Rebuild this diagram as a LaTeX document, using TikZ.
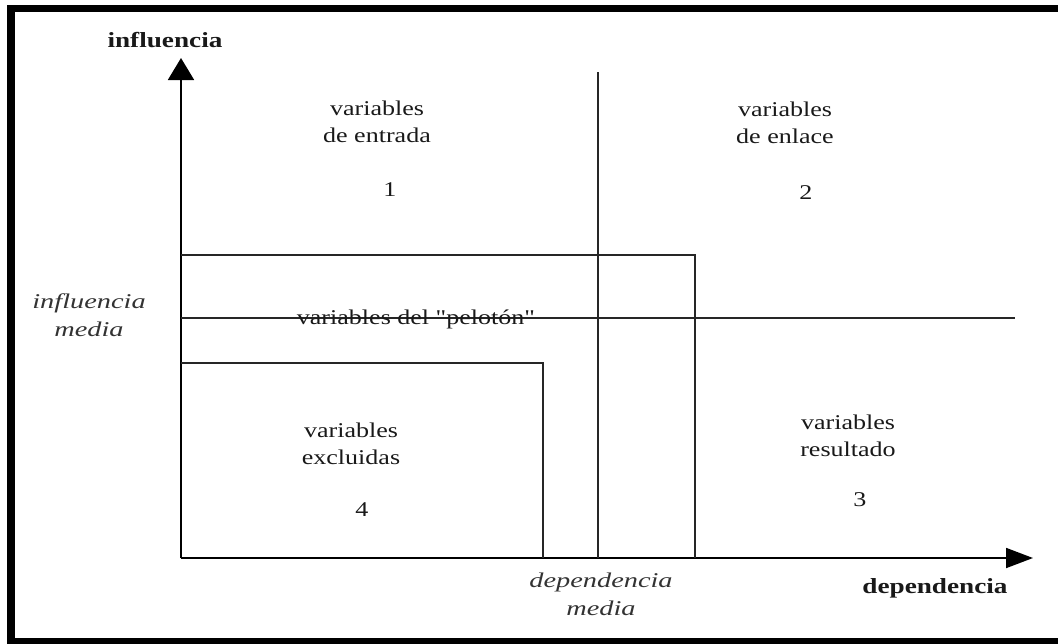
\documentclass[tikz,border=0pt]{standalone}
\usepackage{fontspec}
\setmainfont{Liberation Serif}
\newfontfamily\rmw[FakeStretch=1.24]{Liberation Serif}
\newfontfamily\itw[FakeStretch=1.35]{Liberation Serif}
\newfontfamily\bfw[FakeStretch=1.26]{Liberation Serif}
\usetikzlibrary{arrows.meta}
\begin{document}
\begin{tikzpicture}[x=1pt,y=-1pt,
  frameline/.style={line width=#1, draw=black},
  ln/.style={line width=1.6pt, draw=black!85},
  vaxis/.style={line width=1.8pt, draw=black, -{Triangle[length=22pt,width=26pt]}},
  haxis/.style={line width=1.8pt, draw=black, -{Triangle[length=27pt,width=20pt]}},
  lbl/.style={font=\rmw\fontsize{21}{27}\selectfont, align=center, inner sep=0pt, text=black!90},
  ilbl/.style={font=\itw\itshape\fontsize{21}{28}\selectfont, align=center, inner sep=0pt, text=black!80},
  blbl/.style={font=\bfw\bfseries\fontsize{21.6}{26}\selectfont, inner sep=0pt, text=black!90}]
\useasboundingbox (0,0) rectangle (1058,643);
% outer frame
\draw[frameline=7pt] (7,8.5) -- (1058,8.5);
\draw[frameline=8pt] (11,5) -- (11,643);
\draw[frameline=6pt] (7,641) -- (1058,641);
% axes
\coordinate (O) at (181,558);
\coordinate (ytip) at (181,58);
\coordinate (xtip) at (1033,558);
\draw[vaxis] (O) -- (ytip);
\draw[haxis] (O) -- (xtip);
% regions
\coordinate (vtop) at (598,72);
\coordinate (vbot) at (598,558);
\draw[ln] (vtop) -- (vbot);
\coordinate (pA) at (181,255);
\coordinate (pB) at (695,255);
\coordinate (pC) at (695,558);
\draw[ln] (pA) -- (pB) -- (pC);
\coordinate (mA) at (181,318);
\coordinate (mB) at (1015,318);
\draw[ln] (mA) -- (mB);
\coordinate (eA) at (181,363);
\coordinate (eB) at (543,363);
\coordinate (eC) at (543,558);
\draw[ln] (eA) -- (eB) -- (eC);
% labels
\node[blbl] (yl) at (165,40) {influencia};
\node[blbl] (xl) at (935,588) {dependencia};
\node[ilbl] (im) at (89,315) {influencia\\media};
\node[ilbl] (dm) at (601,594) {dependencia\\media};
\node[lbl] (q1) at (377,122) {variables\\de entrada};
\node[lbl] (n1) at (390,190) {1};
\node[lbl] (q2) at (785,123) {variables\\de enlace};
\node[lbl] (n2) at (806,193) {2};
\node[lbl] (q3) at (848,436) {variables\\resultado};
\node[lbl] (n3) at (860,500) {3};
\node[lbl] (q4) at (351,444) {variables\\excluidas};
\node[lbl] (n4) at (362,510) {4};
\node[lbl, anchor=base] (pel) at (416,324) {variables del "pelotón"};
\end{tikzpicture}
\end{document}
